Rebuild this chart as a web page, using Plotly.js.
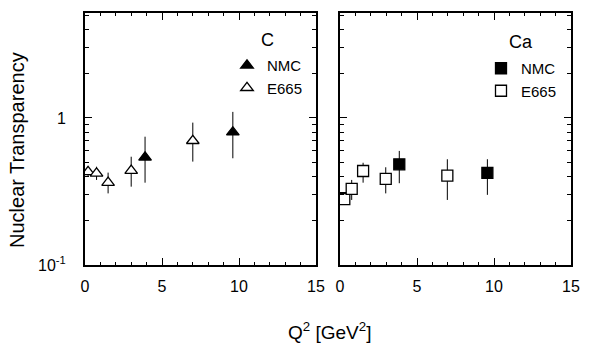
<!DOCTYPE html>
<html><head><meta charset="utf-8">
<script src="https://cdn.plot.ly/plotly-3.0.1.min.js"></script>
<style>html,body{margin:0;padding:0;background:#fff}#chart{width:591px;height:353px}</style>
</head><body><div id="chart"></div>
<script>
// ---- data ----
const panelLabels = ["C", "Ca"];
const seriesNames = ["NMC", "E665"];
const xTitle = "Q<sup>2</sup> [GeV<sup>2</sup>]";
const yTitle = "Nuclear Transparency";

// Carbon
const cE665Q2 = [0.2, 0.75, 1.5, 3.0, 7.0];
const cE665T  = [0.43, 0.42, 0.363, 0.438, 0.70];
const cE665Hi = [0.466, 0.466, 0.425, 0.545, 0.93];
const cE665Lo = [0.399, 0.379, 0.307, 0.341, 0.505];
const cNmcQ2 = [3.9, 9.6];
const cNmcT  = [0.54, 0.80];
const cNmcHi = [0.746, 1.10];
const cNmcLo = [0.363, 0.532];

// Calcium
const caE665Q2 = [0.28, 0.76, 1.5, 2.97, 6.97];
const caE665T  = [0.281, 0.329, 0.436, 0.385, 0.405];
const caE665Hi = [0.30, 0.379, 0.496, 0.462, 0.524];
const caE665Lo = [0.262, 0.277, 0.363, 0.307, 0.277];
const caNmcQ2 = [0.05, 3.85, 9.57];
const caNmcT  = [0.285, 0.484, 0.423];
const caNmcHi = [0.30, 0.597, 0.524];
const caNmcLo = [0.27, 0.36, 0.30];

const xTickVals = [0, 5, 10, 15];
const xTickText = ["0", "5", "10", "15"];
const yTickVals = [0.1, 1];
const yTickText = ["10<sup>-1</sup>", "1"];
const yMinorVals = [0.2, 0.3, 0.4, 0.5, 0.6, 0.7, 0.8, 0.9, 2, 3, 4, 5];

// ---- helpers ----
function errs(y, hi, lo) {
  return {type: 'data', symmetric: false,
    array: y.map((v, i) => hi[i] - v),
    arrayminus: y.map((v, i) => v - lo[i]),
    thickness: 1, width: 0, color: '#000'};
}
function series(x, y, hi, lo, name, symbol, filled, xa, ya, leg) {
  return {
    x: x, y: y, name: name, type: 'scatter', mode: 'markers',
    xaxis: xa, yaxis: ya, legend: leg,
    marker: {symbol: symbol, size: symbol.startsWith('triangle') ? 11 : 11,
      color: filled ? '#000' : '#fff', line: {color: '#000', width: 1.3}},
    error_y: errs(y, hi, lo),
    hoverinfo: 'x+y'
  };
}

const traces = [
  series(cNmcQ2, cNmcT, cNmcHi, cNmcLo, seriesNames[0], 'triangle-up', true, 'x', 'y', 'legend'),
  series(cE665Q2, cE665T, cE665Hi, cE665Lo, seriesNames[1], 'triangle-up', false, 'x', 'y', 'legend'),
  series(caNmcQ2, caNmcT, caNmcHi, caNmcLo, seriesNames[0], 'square', true, 'x2', 'y2', 'legend2'),
  series(caE665Q2, caE665T, caE665Hi, caE665Lo, seriesNames[1], 'square', false, 'x2', 'y2', 'legend2')
];

const W = 591, H = 353;
const font = 'Liberation Sans, Arial, sans-serif';
function xa(domain) {
  return {domain: domain, range: [0, 15], showgrid: false, zeroline: false,
    showline: true, linecolor: '#000', linewidth: 2, mirror: 'ticks',
    ticks: 'inside', ticklen: 7, tickwidth: 1, tickcolor: '#000',
    tickmode: 'array', tickvals: xTickVals, ticktext: xTickText,
    ticklabelstandoff: 6,
    minor: {tickmode: 'linear', tick0: 0, dtick: 1, ticks: 'inside', ticklen: 3, tickcolor: '#000', showgrid: false},
    tickfont: {family: font, size: 16, color: '#000'}, fixedrange: true};
}
function ya(domain, labels) {
  return {domain: domain, type: 'log', range: [-1, 0.714], showgrid: false, zeroline: false,
    showline: true, linecolor: '#000', linewidth: 2, mirror: 'ticks',
    ticks: 'inside', ticklen: 7, tickwidth: 1, tickcolor: '#000',
    tickmode: 'array', tickvals: yTickVals, ticktext: yTickText, showticklabels: labels,
    ticklabelstandoff: 14,
    minor: {tickmode: 'array', tickvals: yMinorVals, ticks: 'inside', ticklen: 4, tickcolor: '#000', showgrid: false},
    tickfont: {family: font, size: 16, color: '#000'}, fixedrange: true};
}
const yDom = [1 - 265 / H, 1 - 13 / H];

const layout = {
  width: W, height: H,
  margin: {l: 0, r: 0, t: 0, b: 0},
  paper_bgcolor: '#fff', plot_bgcolor: '#fff',
  font: {family: font, color: '#000'},
  xaxis: xa([85 / W, 316 / W]),
  yaxis: ya(yDom, true),
  xaxis2: Object.assign(xa([340 / W, 571 / W]), {anchor: 'y2'}),
  yaxis2: Object.assign(ya(yDom, false), {anchor: 'x2'}),
  showlegend: true,
  legend: {x: 227 / W, y: 1 - 49 / H, xanchor: 'left', yanchor: 'top', bgcolor: 'rgba(0,0,0,0)',
    font: {family: font, size: 15, color: '#000'}, tracegroupgap: 0, traceorder: 'normal'},
  legend2: {x: 481 / W, y: 1 - 52 / H, xanchor: 'left', yanchor: 'top', bgcolor: 'rgba(0,0,0,0)',
    font: {family: font, size: 15, color: '#000'}, tracegroupgap: 0, traceorder: 'normal'},
  annotations: [
    {text: panelLabels[0], xref: 'paper', yref: 'paper', x: 267 / W, y: 1 - 40 / H, showarrow: false,
      xanchor: 'center', yanchor: 'middle', font: {family: font, size: 18, color: '#000'}},
    {text: panelLabels[1], xref: 'paper', yref: 'paper', x: 521 / W, y: 1 - 42 / H, showarrow: false,
      xanchor: 'center', yanchor: 'middle', font: {family: font, size: 18, color: '#000'}},
    {text: xTitle, xref: 'paper', yref: 'paper', x: 329 / W, y: 1 - 331 / H, showarrow: false,
      xanchor: 'center', yanchor: 'middle', font: {family: font, size: 19, color: '#000'}},
    {text: yTitle, xref: 'paper', yref: 'paper', x: 17 / W, y: 1 - 150 / H, showarrow: false, textangle: -90,
      xanchor: 'center', yanchor: 'middle', font: {family: font, size: 20, color: '#000'}}
  ]
};

Plotly.newPlot('chart', traces, layout, {displayModeBar: false, staticPlot: true});
</script>
</body></html>
